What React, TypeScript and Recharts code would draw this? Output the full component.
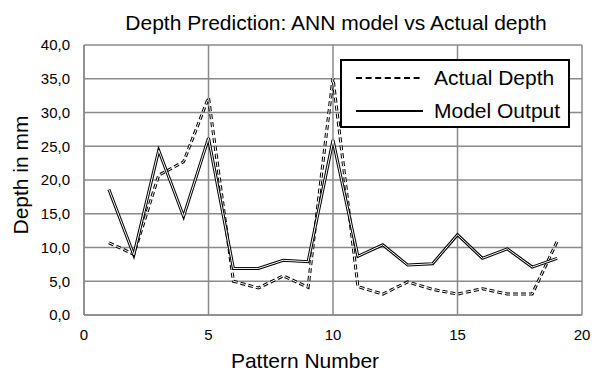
import React from "react";
import { LineChart, Line, XAxis, YAxis, CartesianGrid, Legend } from "recharts";

const patternNumbers = [1, 2, 3, 4, 5, 6, 7, 8, 9, 10, 11, 12, 13, 14, 15, 16, 17, 18, 19];
const actualDepth = [10.7, 9.0, 20.7, 22.7, 32.2, 5.0, 4.0, 5.8, 4.1, 35.1, 4.2, 3.1, 4.9, 3.8, 3.1, 3.9, 3.1, 3.1, 10.9];
const modelOutput = [18.6, 8.9, 24.4, 14.6, 26.2, 6.9, 6.9, 8.1, 7.9, 25.9, 8.7, 10.4, 7.4, 7.6, 11.9, 8.4, 9.8, 7.1, 8.4];
const xTicks = [0, 5, 10, 15, 20];
const yTicks = [0, 5, 10, 15, 20, 25, 30, 35, 40];

const FONT = "'Liberation Sans', Arial, sans-serif";
const GRID = "#8a8a8a";

const data = patternNumbers.map((p, i) => ({
    pattern: p,
    actual: actualDepth[i],
    model: modelOutput[i],
}));

// legend box drawn inside the plot, top right
const LegendBox = ({ payload }: any) => {
    const items = (payload || []).filter((p: any) => p.type !== "none");
    return (
        <div
            style={{
                width: 226,
                height: 65,
                border: "2px solid #000",
                background: "#fff",
                fontFamily: FONT,
                fontSize: 21,
                boxSizing: "content-box",
            }}
        >
            {items.map((item: any) => (
                <div
                    key={item.value}
                    style={{ display: "flex", alignItems: "center", height: 33, marginTop: 0 }}
                >
                    <svg width={90} height={10} style={{ marginLeft: 14 }}>
                        <line
                            x1={0}
                            y1={5}
                            x2={67}
                            y2={5}
                            stroke="#000"
                            strokeWidth={2}
                            strokeDasharray={item.dataKey === "actual" ? "6 3.6" : undefined}
                        />
                    </svg>
                    <span style={{ color: "#000", marginLeft: -12 }}>{item.value}</span>
                </div>
            ))}
        </div>
    );
};

export default function App() {
    return (
        <div
            style={{
                position: "absolute",
                left: 0,
                top: 0,
                width: 598,
                height: 374,
                background: "#fff",
                fontFamily: FONT,
            }}
        >
            <div
                style={{
                    position: "absolute",
                    left: 0,
                    width: 672,
                    top: 12,
                    textAlign: "center",
                    fontSize: 21,
                    lineHeight: "21px",
                    color: "#000",
                }}
            >
                Depth Prediction: ANN model vs Actual depth
            </div>
            <LineChart
                width={598}
                height={374}
                data={data}
                margin={{ top: 45, right: 16, bottom: 29, left: 0 }}
            >
                <CartesianGrid stroke={GRID} strokeWidth={1.5} horizontalValues={yTicks} verticalValues={xTicks} />
                <XAxis
                    dataKey="pattern"
                    type="number"
                    domain={[0, 20]}
                    ticks={xTicks}
                    height={30}
                    tickLine={false}
                    tickSize={6}
                    tickMargin={8}
                    axisLine={{ stroke: GRID, strokeWidth: 1.5 }}
                    tick={{ fill: "#000", fontSize: 15, fontFamily: FONT }}
                />
                <YAxis
                    type="number"
                    domain={[0, 40]}
                    ticks={yTicks}
                    width={84}
                    tickLine={false}
                    tickSize={6}
                    tickMargin={8}
                    axisLine={{ stroke: GRID, strokeWidth: 1.5 }}
                    tick={{ fill: "#000", fontSize: 15, fontFamily: FONT }}
                    tickFormatter={(v: number) => v.toFixed(1).replace(".", ",")}
                />
                <Legend
                    layout="vertical"
                    align="center"
                    verticalAlign="middle"
                    wrapperStyle={{ left: 340, top: 59, width: 230 }}
                    content={<LegendBox />}
                />
                {/* double-stroke look: thick black line with a thin white core */}
                <Line
                    dataKey="actual"
                    name="Actual Depth"
                    stroke="#000"
                    strokeWidth={3}
                    strokeDasharray="5 3"
                    dot={false}
                    isAnimationActive={false}
                />
                <Line
                    dataKey="actual"
                    name="actual-core"
                    legendType="none"
                    stroke="#fff"
                    strokeWidth={1}
                    strokeDasharray="5 3"
                    dot={false}
                    isAnimationActive={false}
                />
                <Line
                    dataKey="model"
                    name="Model Output"
                    stroke="#000"
                    strokeWidth={3}
                    dot={false}
                    isAnimationActive={false}
                />
                <Line
                    dataKey="model"
                    name="model-core"
                    legendType="none"
                    stroke="#fff"
                    strokeWidth={1}
                    dot={false}
                    isAnimationActive={false}
                />
            </LineChart>
            <div
                style={{
                    position: "absolute",
                    left: 205,
                    width: 200,
                    top: 350,
                    textAlign: "center",
                    fontSize: 21,
                    lineHeight: "21px",
                    color: "#000",
                }}
            >
                Pattern Number
            </div>
            <div
                style={{
                    position: "absolute",
                    left: 21 - 80,
                    top: 175 - 11,
                    width: 160,
                    height: 22,
                    textAlign: "center",
                    fontSize: 21,
                    lineHeight: "22px",
                    color: "#000",
                    transform: "rotate(-90deg)",
                }}
            >
                Depth in mm
            </div>
        </div>
    );
}
